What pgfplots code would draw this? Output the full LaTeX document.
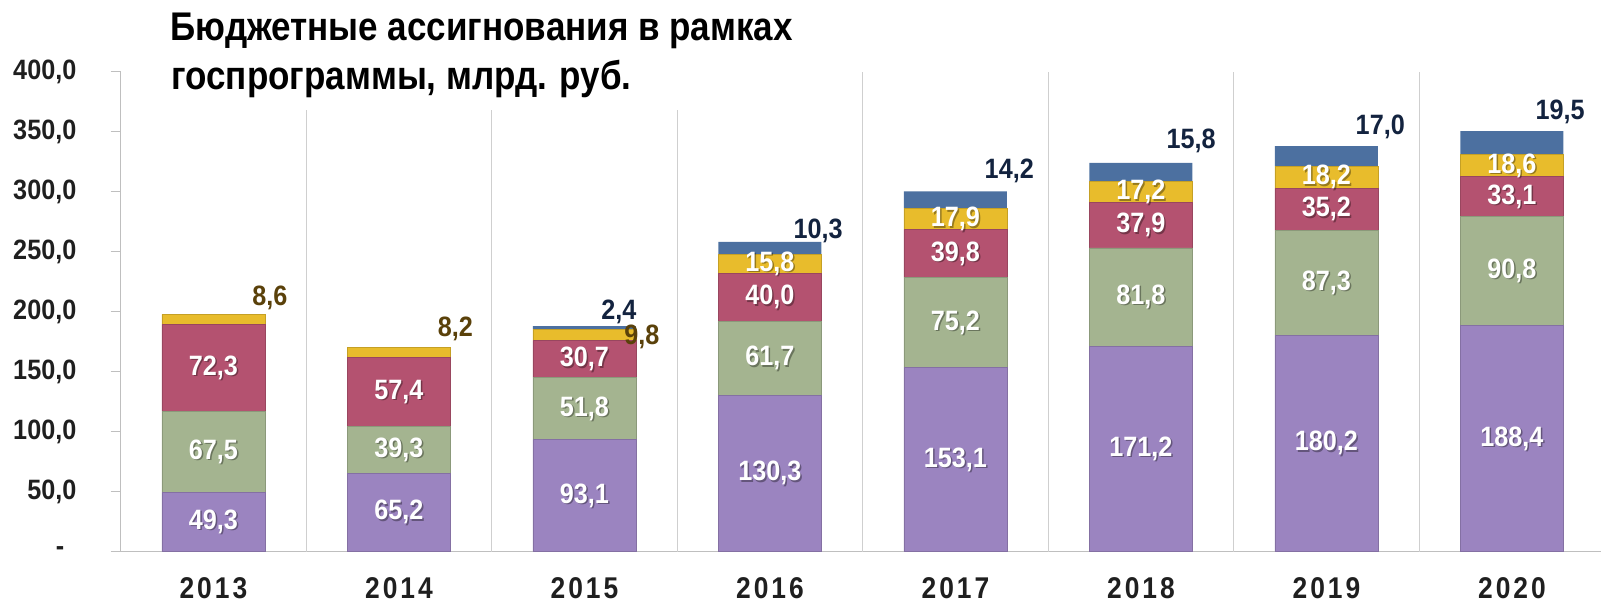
\documentclass[border=0pt]{standalone}
\usepackage{pgfplots}
\pgfplotsset{compat=1.18}
\usepackage{fontspec}
\setmainfont{Liberation Sans}
\newfontfamily\titlefont{Liberation Sans}[FakeStretch=0.875]
\newfontfamily\numfont{Liberation Sans}[FakeStretch=0.9]
\newfontfamily\yearfont{Liberation Sans}[FakeStretch=0.88, LetterSpace=10]

\definecolor{cPurple}{HTML}{9B84C0}
\definecolor{cGreen}{HTML}{A4B490}
\definecolor{cRed}{HTML}{B45270}
\definecolor{cYellow}{HTML}{E8BC2C}
\definecolor{cBlue}{HTML}{4C70A0}
\definecolor{cBrown}{HTML}{5A410A}
\definecolor{cNavy}{HTML}{13233F}
\definecolor{axgray}{HTML}{BFBFBF}
\definecolor{gridgray}{HTML}{CFCFCF}

\pgfplotstableread{
x y l
0 24.65 49,3
0 83.05 67,5
0 152.95 72,3
1 32.6 65,2
1 84.85 39,3
1 133.2 57,4
2 46.55 93,1
2 119.0 51,8
2 160.25 30,7
3 65.15 130,3
3 161.15 61,7
3 212.0 40,0
3 239.9 15,8
4 76.55 153,1
4 190.7 75,2
4 248.2 39,8
4 277.05 17,9
5 85.6 171,2
5 212.1 81,8
5 271.95 37,9
5 299.5 17,2
6 90.1 180,2
6 223.85 87,3
6 285.1 35,2
6 311.8 18,2
7 94.2 188,4
7 233.8 90,8
7 295.75 33,1
7 321.6 18,6
}\insidelabels

\pgfplotstableread{
x y l
0.304 211.0 8,6
1.304 185.6 8,2
2.31 178.7 9,8
}\yellowlabels

\pgfplotstableread{
x y l
2.186 200.0 2,4
3.26 267.0 10,3
4.29 317.0 14,2
5.27 342.0 15,8
6.29 353.5 17,0
7.26 366.0 19,5
}\bluelabels

\begin{document}
\begin{tikzpicture}
\path[use as bounding box] (0pt,0pt) rectangle (800.5pt,303pt);
\begin{axis}[
  at={(60.35pt,27.25pt)}, anchor=south west,
  scale only axis, width=740.15pt, height=240pt,
  xmin=-0.5, xmax=7.48, ymin=0, ymax=400,
  ybar stacked, bar width=51.5pt,
  clip=false,
  axis x line*=bottom, axis y line*=left,
  axis line style={draw=axgray, line width=0.6pt},
  xtick={0,...,7},
  xticklabels={2013,2014,2015,2016,2017,2018,2019,2020},
  xtick style={draw=none},
  xticklabel style={font=\yearfont\bfseries\fontsize{15}{17}\selectfont, text=black!88, anchor=base, inner sep=0pt, yshift=-18.5pt},
  extra x ticks={0.5,1.5,2.5,3.5,4.5,5.5,6.5},
  extra x tick labels={},
  extra x tick style={grid=major, major grid style={draw=gridgray, line width=0.6pt}, tick style={draw=none}},
  ytick={0,50,...,400},
  yticklabels={-\hspace*{6pt},{50,0},{100,0},{150,0},{200,0},{250,0},{300,0},{350,0},{400,0}},
  ytick style={draw=axgray, line width=0.6pt},
  tick align=outside, major tick length=5pt,
  yticklabel style={font=\numfont\bfseries\fontsize{14}{16}\selectfont, text=black!88, inner sep=0pt, xshift=-17pt},
]
\addplot[fill=cPurple, draw=cPurple!85!black, line width=0.4pt] coordinates {(0,49.3) (1,65.2) (2,93.1) (3,130.3) (4,153.1) (5,171.2) (6,180.2) (7,188.4)};
\addplot[fill=cGreen, draw=cGreen!85!black, line width=0.4pt] coordinates {(0,67.5) (1,39.3) (2,51.8) (3,61.7) (4,75.2) (5,81.8) (6,87.3) (7,90.8)};
\addplot[fill=cRed, draw=cRed!85!black, line width=0.4pt] coordinates {(0,72.3) (1,57.4) (2,30.7) (3,40.0) (4,39.8) (5,37.9) (6,35.2) (7,33.1)};
\addplot[fill=cYellow, draw=cYellow!85!black, line width=0.4pt] coordinates {(0,8.6) (1,8.2) (2,9.8) (3,15.8) (4,17.9) (5,17.2) (6,18.2) (7,18.6)};
\addplot[fill=cBlue, draw=none] coordinates {(0,0) (1,0) (2,2.4) (3,10.3) (4,14.2) (5,15.8) (6,17.0) (7,19.5)};
\draw[axgray, line width=0.6pt] (axis cs:-0.5,0) -- ++(-5pt,0);
\end{axis}
\begin{axis}[
  at={(60.35pt,27.25pt)}, anchor=south west,
  scale only axis, width=740.15pt, height=240pt,
  xmin=-0.5, xmax=7.48, ymin=0, ymax=400,
  hide axis, clip=false,
  point meta=explicit symbolic,
  nodes near coords,
]
\addplot[only marks, mark=none, nodes near coords style={anchor=center, inner sep=0pt, xshift=0.7pt, yshift=-0.7pt, font=\numfont\bfseries\fontsize{14}{16}\selectfont, text=black, text opacity=0.35}] table[x=x, y=y, meta=l] {\insidelabels};
\addplot[only marks, mark=none, nodes near coords style={anchor=center, inner sep=0pt, font=\numfont\bfseries\fontsize{14}{16}\selectfont, text=white}] table[x=x, y=y, meta=l] {\insidelabels};
\addplot[only marks, mark=none, nodes near coords style={anchor=center, inner sep=0pt, font=\numfont\bfseries\fontsize{14}{16}\selectfont, text=cBrown}] table[x=x, y=y, meta=l] {\yellowlabels};
\addplot[only marks, mark=none, nodes near coords style={anchor=center, inner sep=0pt, font=\numfont\bfseries\fontsize{14}{16}\selectfont, text=cNavy}] table[x=x, y=y, meta=l] {\bluelabels};
\end{axis}
\fill[white] (82.5pt,248pt) rectangle (400pt,303pt);
\node[anchor=base west, inner sep=0pt, font=\titlefont\bfseries\fontsize{20}{24}\selectfont] at (85pt,282.5pt) {Бюджетные ассигнования в рамках};
\node[anchor=base west, inner sep=0pt, font=\titlefont\bfseries\fontsize{20}{24}\selectfont] at (85.5pt,258pt) {госпрограммы, млрд. руб.};
\end{tikzpicture}
\end{document}
